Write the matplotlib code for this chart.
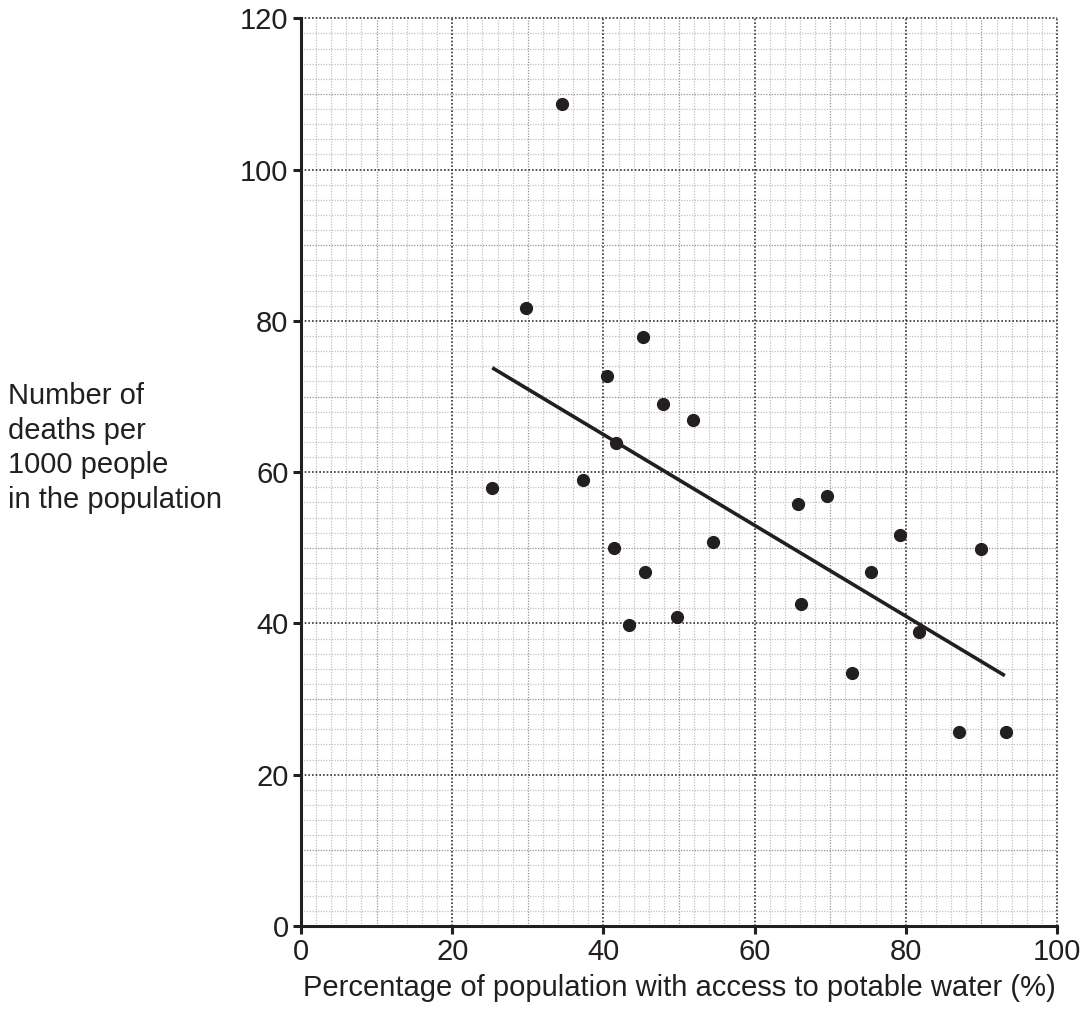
import numpy as np
import matplotlib.pyplot as plt

plt.rcParams['font.family'] = ['Liberation Sans', 'DejaVu Sans']

# readings
water_pct = [34.5, 29.7, 45.3, 40.5, 47.9, 51.8, 41.7, 25.3, 37.3, 41.4, 54.5, 45.5,
             49.8, 43.4, 65.7, 69.6, 79.2, 90.0, 75.4, 66.2, 81.8, 72.9, 87.1, 93.2]
deaths = [108.7, 81.7, 77.9, 72.7, 69.0, 66.9, 63.8, 57.9, 58.9, 50.0, 50.7, 46.8,
          40.9, 39.8, 55.8, 56.9, 51.7, 49.9, 46.8, 42.6, 38.9, 33.5, 25.7, 25.7]
fit_x = [25.3, 93.1]
fit_y = [73.8, 33.1]

ink = '#231f20'

fig = plt.figure(figsize=(10.89, 10.14), dpi=100)
ax = fig.add_axes([301/1089, 1 - 926/1014, 756/1089, (926 - 18.3)/1014])
ax.set_xlim(0, 100)
ax.set_ylim(0, 120)

# graph paper
for v in np.arange(2, 100, 2):
    if v % 20 == 0:
        continue
    c = '#939393' if v % 10 == 0 else '#c2c2c2'
    ax.axvline(v, color=c, lw=0.9, ls=(0, (1, 1.2)), zorder=1)
for v in np.arange(2, 120, 2):
    if v % 20 == 0:
        continue
    c = '#939393' if v % 10 == 0 else '#c2c2c2'
    ax.axhline(v, color=c, lw=0.9, ls=(0, (1, 1.2)), zorder=1)
for v in range(20, 101, 20):
    ax.axvline(v, color='#333333', lw=1.2, ls=(0, (1, 1.2)), zorder=1.5, clip_on=False)
for v in range(20, 121, 20):
    ax.axhline(v, color='#333333', lw=1.2, ls=(0, (1, 1.2)), zorder=1.5, clip_on=False)

ax.plot(fit_x, fit_y, color=ink, lw=2.6, solid_capstyle='butt', zorder=3)
ax.plot(water_pct, deaths, 'o', color=ink, ms=8.5, zorder=4)

for s in ['top', 'right']:
    ax.spines[s].set_visible(False)
for s in ['left', 'bottom']:
    ax.spines[s].set_linewidth(2.2)
    ax.spines[s].set_color(ink)
    ax.spines[s].set_zorder(5)

ax.set_xticks(range(0, 101, 20))
ax.set_yticks(range(0, 121, 20))
ax.tick_params(length=6, width=2.2, color=ink, labelsize=21, labelcolor=ink, pad=3)

fig.text(8/1089, 1 - 448/1014,
         'Number of\ndeaths per\n1000 people\nin the population',
         ha='left', va='center', fontsize=21, color=ink, linespacing=1.31)
fig.text(679/1089, 1 - 988/1014,
         'Percentage of population with access to potable water (%)',
         ha='center', va='center', fontsize=21, color=ink)

fig.savefig('out.png', dpi=100)
